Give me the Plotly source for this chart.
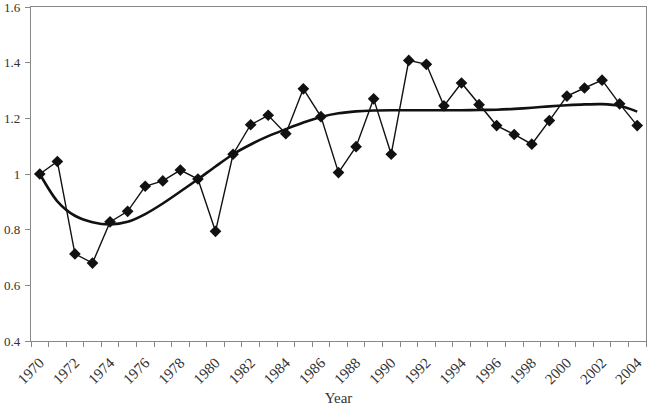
import plotly.graph_objects as go

years = list(range(1970, 2005))
values = [1.000, 1.045, 0.713, 0.680, 0.828, 0.866, 0.956, 0.975, 1.014, 0.982,
          0.794, 1.071, 1.177, 1.211, 1.145, 1.306, 1.206, 1.005, 1.098, 1.270,
          1.071, 1.408, 1.394, 1.245, 1.327, 1.249, 1.174, 1.142, 1.107, 1.192,
          1.280, 1.309, 1.337, 1.252, 1.174]
trend = [1.000, 0.902, 0.850, 0.827, 0.819, 0.828, 0.856, 0.894, 0.937, 0.981,
         1.027, 1.071, 1.106, 1.136, 1.161, 1.185, 1.205, 1.218, 1.225, 1.228,
         1.229, 1.229, 1.229, 1.229, 1.229, 1.230, 1.231, 1.234, 1.238, 1.243,
         1.247, 1.250, 1.251, 1.245, 1.224]
tick_years = list(range(1970, 2005, 2))
tick_labels = [str(y) for y in tick_years]
y_ticks = [0.4, 0.6, 0.8, 1.0, 1.2, 1.4, 1.6]
y_labels = ["0.4", "0.6", "0.8", "1", "1.2", "1.4", "1.6"]

fig = go.Figure()
fig.add_trace(go.Scatter(x=years, y=values, mode="lines+markers",
                         line=dict(color="#111111", width=1.4),
                         marker=dict(symbol="diamond", size=9, color="#111111"),
                         showlegend=False))
fig.add_trace(go.Scatter(x=years, y=trend, mode="lines",
                         line=dict(color="#111111", width=2.6, shape="spline", smoothing=0.8),
                         showlegend=False))

font = dict(family="Liberation Serif", size=14, color="#333333")
fig.update_layout(
    width=648, height=412,
    margin=dict(l=31, r=2, t=7, b=71),
    paper_bgcolor="white", plot_bgcolor="white",
    font=font,
    xaxis=dict(range=[1969.5, 2004.5], tickvals=tick_years, ticktext=tick_labels,
               tickangle=-45, ticks="", showgrid=False, zeroline=False,
               showline=True, mirror=True, linecolor="#888888", linewidth=1.3,
               minor=dict(tick0=1969.5, dtick=1, ticks="outside", ticklen=5,
                          tickcolor="#888888", tickwidth=1),
               tickfont=dict(size=15), ticklabelstandoff=6, automargin=False,
               title=dict(text="Year", font=dict(size=15), standoff=6)),
    yaxis=dict(range=[0.4, 1.6], tickvals=y_ticks, ticktext=y_labels,
               ticks="outside", ticklen=5, ticklabeloverflow="allow",
               tickcolor="#888888", showgrid=False, zeroline=False,
               showline=True, mirror=True, linecolor="#888888", linewidth=1.3,
               tickfont=dict(size=13), ticklabelstandoff=2, automargin=False),
)
fig.write_html("out.html")
